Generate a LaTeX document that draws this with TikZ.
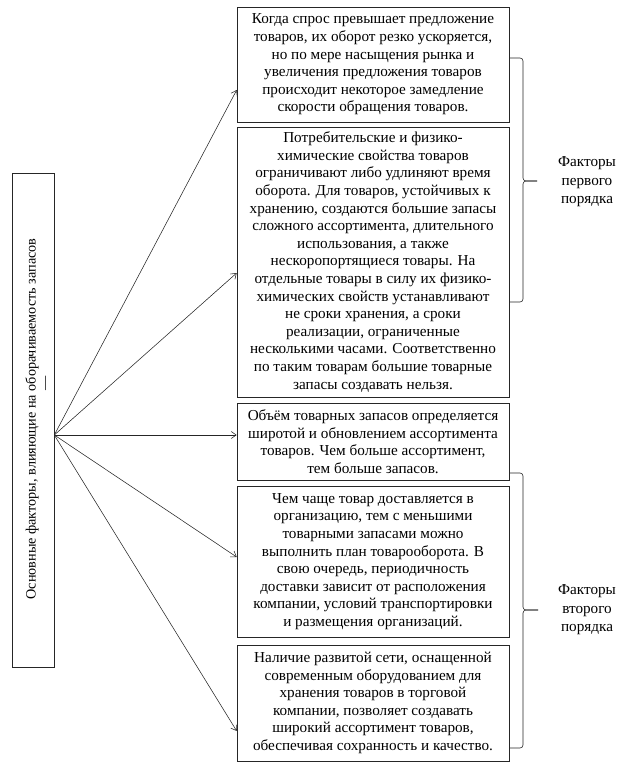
\documentclass[tikz,border=0pt]{standalone}
\usepackage{fontspec}
\setmainfont{Liberation Serif}
\usetikzlibrary{arrows.meta}
\begin{document}
\begin{tikzpicture}[x=1pt,y=-1pt,
  txt/.style={font=\fontsize{15.2}{17.6}\selectfont},
  fbox/.style={draw=black!85,line width=0.6pt,txt,align=center,minimum width=272pt,inner sep=1pt,anchor=center},
  arr/.style={draw=black!85,line width=0.55pt,-{Straight Barb[length=5pt,width=7pt]}},
  brace/.style={draw=black!85,line width=0.6pt,rounded corners=3pt}]
\useasboundingbox (0,0) rectangle (623,775);
\node[draw=black!85,line width=0.6pt,minimum width=42pt,minimum height=494pt,inner sep=0pt] (main) at (33,420) {};
\node[font=\fontsize{14.2}{17}\selectfont,rotate=90] (mtext) at (32,419) {Основные факторы, влияющие на оборачиваемость запасов};
\node[font=\fontsize{14.2}{17}\selectfont,rotate=90] (mdash) at (47,383) {—};
\coordinate (src) at ([yshift=-15pt]main.east);
\node[fbox,minimum height=115pt] (b1) at (373,64.5) {Когда спрос превышает предложение\\товаров, их оборот резко ускоряется,\\но по мере насыщения рынка и\\увеличения предложения товаров\\происходит некоторое замедление\\скорости обращения товаров.};
\node[fbox,minimum height=270pt] (b2) at (373,262) {Потребительские и физико-\\химические свойства товаров\\ограничивают либо удлиняют время\\оборота. Для товаров, устойчивых к\\хранению, создаются большие запасы\\сложного ассортимента, длительного\\использования, а также\\нескоропортящиеся товары. На\\отдельные товары в силу их физико-\\химических свойств устанавливают\\не сроки хранения, а сроки\\реализации, ограниченные\\несколькими часами. Соответственно\\по таким товарам большие товарные\\запасы создавать нельзя.};
\node[fbox,minimum height=77pt] (b3) at (373,441.5) {Объём товарных запасов определяется\\широтой и обновлением ассортимента\\товаров. Чем больше ассортимент,\\тем больше запасов.};
\node[fbox,minimum height=151pt] (b4) at (373,561.5) {Чем чаще товар доставляется в\\организацию, тем с меньшими\\товарными запасами можно\\выполнить план товарооборота. В\\свою очередь, периодичность\\доставки зависит от расположения\\компании, условий транспортировки\\и размещения организаций.};
\node[fbox,minimum height=116pt] (b5) at (373,703) {Наличие развитой сети, оснащенной\\современным оборудованием для\\хранения товаров в торговой\\компании, позволяет создавать\\широкий ассортимент товаров,\\обеспечивая сохранность и качество.};
\draw[arr] (src) -- ([yshift=-25.5pt]b1.west);
\draw[arr] (src) -- ([yshift=-11pt]b2.west);
\draw[arr] (src) -- ([yshift=6.5pt]b3.west);
\draw[arr] (src) -- ([yshift=4.5pt]b4.west);
\draw[arr] (src) -- ([yshift=-28pt]b5.west);
% braces
\coordinate (t1) at (537,181);
\coordinate (t2) at (538,610);
\draw[brace] ([yshift=6.5pt]b1.east) -- (523,58) -- (523,181) -- (t1);
\draw[brace] (t1) -- (523,181) -- (523,302) -- ([yshift=-40pt]b2.east);
\draw[brace] ([yshift=-31.5pt]b3.east) -- (523,473) -- (523,610) -- (t2);
\draw[brace] (t2) -- (523,610) -- (523,748) -- ([yshift=-45pt]b5.east);
\node[font=\fontsize{15.2}{18.5}\selectfont,align=center] (f1) at (587,182) {Факторы\\первого\\порядка};
\node[font=\fontsize{15.2}{18.5}\selectfont,align=center] (f2) at (587,610) {Факторы\\второго\\порядка};
\end{tikzpicture}
\end{document}
